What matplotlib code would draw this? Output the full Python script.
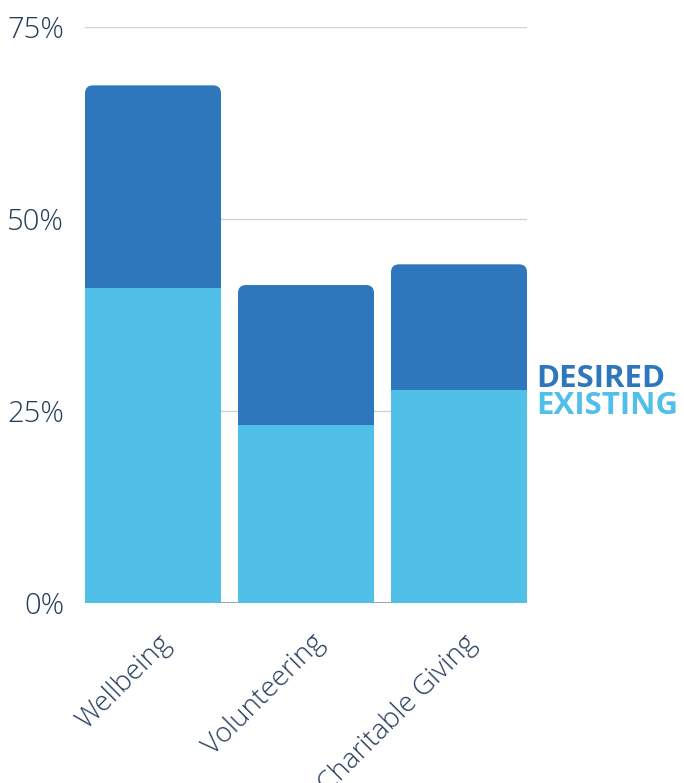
#!/usr/bin/env python3
"""Stacked bar chart: existing vs desired share per activity."""

import matplotlib
matplotlib.use('Agg')
import matplotlib.pyplot as plt
import matplotlib.transforms as mtransforms
from matplotlib.patches import FancyBboxPatch
from matplotlib.ticker import FuncFormatter
import numpy as np

# Data (percent)
categories = ['Wellbeing', 'Volunteering', 'Charitable Giving']
existing = [41.0, 23.2, 27.7]
desired = [67.4, 41.4, 44.1]
y_ticks = [0, 25, 50, 75]

DARK = '#2e77bc'
LIGHT = '#50c0e9'
TEXT = '#253c5a'

plt.rcParams['font.family'] = ['Open Sans', 'DejaVu Sans']

fig = plt.figure(figsize=(6.84, 7.83), dpi=100)
ax = fig.add_axes([85 / 684, 180 / 783, 442 / 684, 576 / 783])

x = np.arange(len(categories))
width = 0.889

# Desired bars (full height) with rounded top corners
bars = ax.bar(x, desired, width=width, color=DARK, zorder=2)
px_x = 1 / 153.0          # data units per pixel along x
px_y = 75 / 576.0         # data units per pixel along y
radius = 8 * px_x
for rect in bars:
    x0, y0 = rect.get_xy()
    w, h = rect.get_width(), rect.get_height()
    rect.remove()
    ax.add_patch(FancyBboxPatch((x0, y0), w, h,
                                boxstyle=f'round,pad=0,rounding_size={radius}',
                                mutation_aspect=px_y / px_x,
                                facecolor=DARK, edgecolor='none', zorder=2))

# Existing bars drawn over the lower part
ax.bar(x, existing, width=width, color=LIGHT, zorder=3)

ax.set_xlim(-width / 2, len(categories) - 1 + width / 2)
ax.set_ylim(0, 75)

# Grid and baseline
for t in y_ticks[1:]:
    ax.axhline(t, color='#cfd3d8', linewidth=1, zorder=1)
ax.axhline(0, color='#8a939c', linewidth=1.2, zorder=1)

for s in ax.spines.values():
    s.set_visible(False)

ax.set_yticks(y_ticks)
ax.yaxis.set_major_formatter(FuncFormatter(lambda v, p: f'{v:.0f}%'))
ax.tick_params(axis='y', length=0, pad=15, labelsize=21, labelcolor=TEXT)
for lab in ax.get_yticklabels():
    lab.set_fontweight('light')

ax.set_xticks(x)
ax.set_xticklabels(categories, rotation=45, ha='right', rotation_mode='anchor',
                   fontsize=20, color=TEXT, fontweight='light')
ax.tick_params(axis='x', length=0, pad=19)
offset = mtransforms.ScaledTranslation(4 / 100, 0, fig.dpi_scale_trans)
for lab in ax.get_xticklabels():
    lab.set_transform(lab.get_transform() + offset)

# Series labels next to the last bar, at the boundary between segments
last = len(categories) - 1
ax.annotate('DESIRED', xy=(last + width / 2, existing[last]),
            xytext=(9, 3), textcoords='offset pixels', ha='left', va='baseline',
            fontsize=22.5, fontweight='bold', color=DARK, annotation_clip=False)
ax.annotate('EXISTING', xy=(last + width / 2, existing[last]),
            xytext=(9, -24), textcoords='offset pixels', ha='left', va='baseline',
            fontsize=22.5, fontweight='bold', color=LIGHT, annotation_clip=False)

fig.savefig('out.png', dpi=100, facecolor='white')
